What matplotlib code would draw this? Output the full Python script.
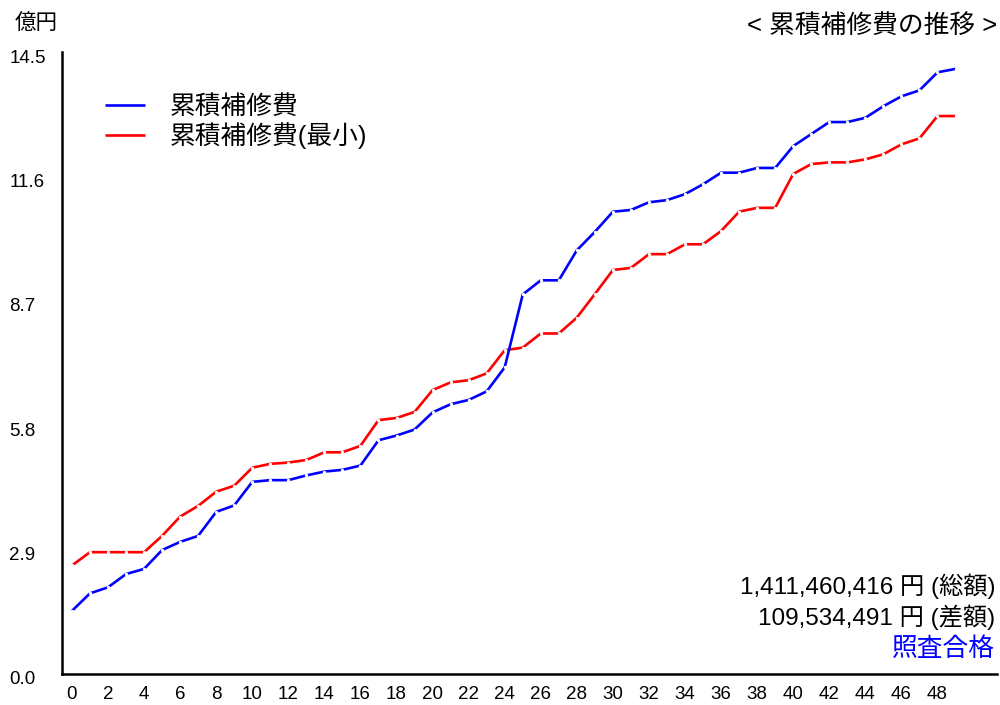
import matplotlib
matplotlib.use("Agg")
import matplotlib.pyplot as plt
import matplotlib.transforms as mtransforms
import numpy as np

plt.rcParams['font.family'] = ['Liberation Sans', 'Noto Sans CJK JP', 'DejaVu Sans']

years = list(range(0, 50))
cum_cost = [1.47, 1.88, 2.02, 2.33, 2.45, 2.89, 3.08, 3.22, 3.78, 3.93,
            4.48, 4.52, 4.52, 4.63, 4.72, 4.76, 4.86, 5.45, 5.56, 5.70,
            6.10, 6.29, 6.39, 6.59, 7.15, 8.85, 9.18, 9.18, 9.88, 10.31,
            10.78, 10.82, 11.00, 11.05, 11.19, 11.42, 11.69, 11.69, 11.80, 11.80,
            12.31, 12.59, 12.87, 12.87, 12.97, 13.24, 13.47, 13.61, 14.03, 14.11]
cum_cost_min = [2.53, 2.84, 2.84, 2.84, 2.84, 3.22, 3.67, 3.92, 4.25, 4.39,
                4.81, 4.90, 4.93, 4.99, 5.17, 5.17, 5.32, 5.92, 5.97, 6.11,
                6.62, 6.80, 6.85, 7.01, 7.55, 7.61, 7.94, 7.94, 8.31, 8.86,
                9.42, 9.47, 9.79, 9.79, 10.02, 10.02, 10.33, 10.78, 10.87, 10.87,
                11.66, 11.89, 11.93, 11.93, 12.00, 12.12, 12.35, 12.49, 13.01, 13.01]
series_labels = ['累積補修費', '累積補修費(最小)']
yticks = [0.0, 2.9, 5.8, 8.7, 11.6, 14.5]
xticks = list(range(0, 49, 2))
total_text = '1,411,460,416 円 (総額)'
diff_text = '109,534,491 円 (差額)'
status_text = '照査合格'
title_text = '< 累積補修費の推移 >'
unit_text = '億円'

fig = plt.figure(figsize=(10, 7.05), dpi=100)
ax = fig.add_axes([0.062, 0.044, 0.935, 0.882])

l1, = ax.plot(years, cum_cost, color='#0000ff', lw=1.9, solid_capstyle='butt', zorder=3)
l2, = ax.plot(years, cum_cost_min, color='#ff0000', lw=1.9, solid_capstyle='butt', zorder=2)
# small breaks at vertices
ax.plot(years, cum_cost, ls='none', marker='o', ms=2.4, mfc='white', mec='none', zorder=4)
ax.plot(years, cum_cost_min, ls='none', marker='o', ms=2.4, mfc='white', mec='none', zorder=4)

ax.set_xlim(-0.55, 51.3)
ax.set_ylim(0, 14.5)
for s in ['top', 'right']:
    ax.spines[s].set_visible(False)
for s in ['left', 'bottom']:
    ax.spines[s].set_linewidth(1.8)
    ax.spines[s].set_color('black')

ax.set_xticks(xticks)
ax.set_xticklabels([str(v) for v in xticks])
ax.set_yticks(yticks)
ax.set_yticklabels([f'{v:.1f}' for v in yticks])
ax.tick_params(axis='x', length=0, pad=9, labelsize=13.5)
ax.tick_params(axis='y', length=0, pad=38, labelsize=13.5)
off = mtransforms.ScaledTranslation(0, -4 / 100, fig.dpi_scale_trans)
for lab in ax.get_yticklabels():
    lab.set_horizontalalignment('left')
    lab.set_transform(lab.get_transform() + off)

leg = ax.legend([l1, l2], series_labels, loc='upper left', bbox_to_anchor=(0.035, 0.948),
                frameon=False, fontsize=18.5, handlelength=1.56, handletextpad=0.95,
                labelspacing=0.12, borderaxespad=0)

fig.text(0.015, 0.965, unit_text, fontsize=15.5, ha='left', va='center')
fig.text(0.997, 0.962, title_text, fontsize=18.5, ha='right', va='center')
fig.text(0.995, 0.169, total_text, fontsize=17.5, ha='right', va='center')
fig.text(0.995, 0.125, diff_text, fontsize=17.5, ha='right', va='center')
fig.text(0.995, 0.080, status_text, fontsize=18.5, ha='right', va='center', color='#0000ff')

fig.savefig('out.png', dpi=100)
